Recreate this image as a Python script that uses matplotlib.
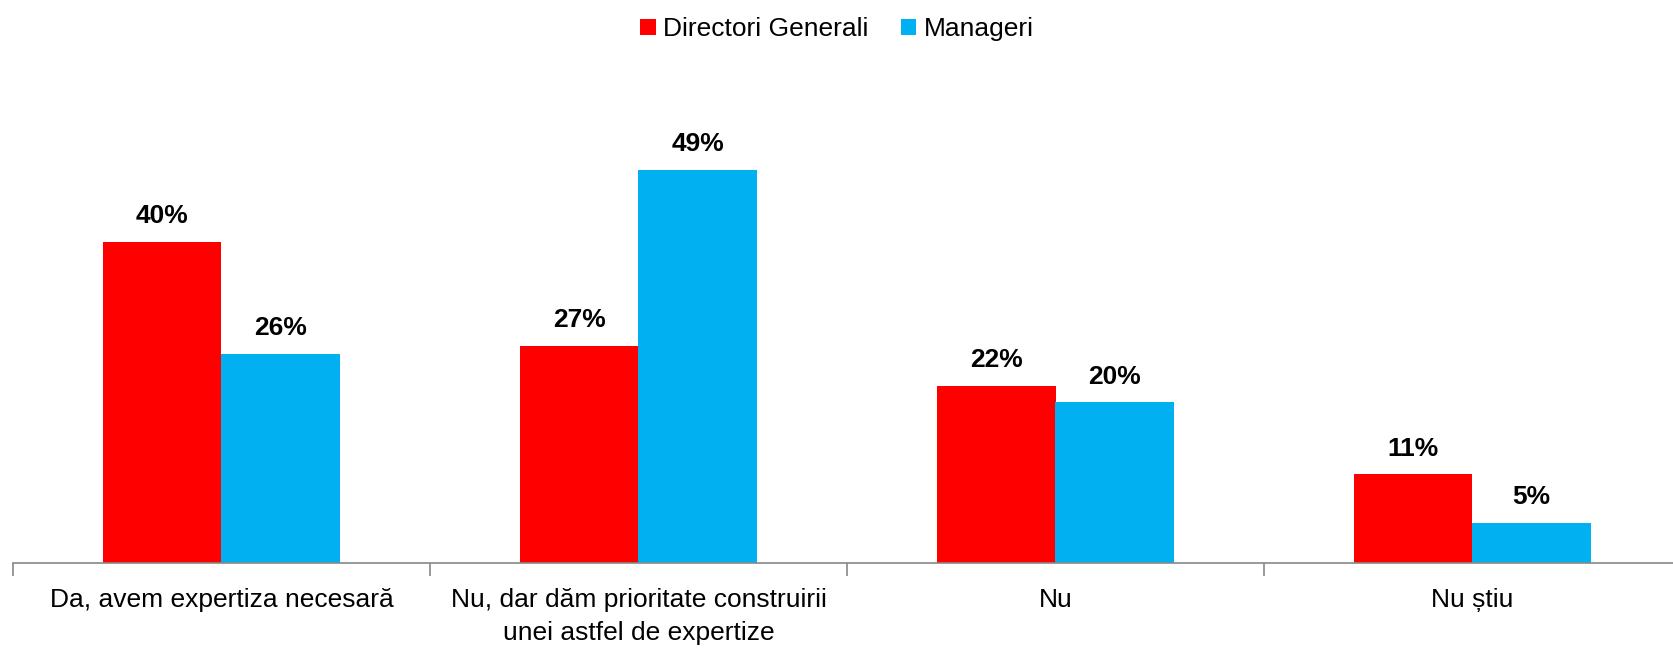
import numpy as np
import matplotlib.pyplot as plt

categories = ['Da, avem expertiza necesară', 'Nu, dar dăm prioritate construirii\nunei astfel de expertize', 'Nu', 'Nu știu']
series = ['Directori Generali', 'Manageri']
directori = [40, 27, 22, 11]
manageri = [26, 49, 20, 5]
colors = ['#FF0000', '#00B0F0']

plt.rcParams['font.family'] = ['Liberation Sans', 'DejaVu Sans']

fig = plt.figure(figsize=(16.74, 6.53), dpi=100)
ax = fig.add_axes([13 / 1674, 90.4 / 653, 1668 / 1674, 440 / 653])

x = np.arange(len(categories))
w = 0.284
b1 = ax.bar(x - w / 2, directori, w, color=colors[0], label=series[0])
b2 = ax.bar(x + w / 2, manageri, w, color=colors[1], label=series[1])
for bars, vals in [(b1, directori), (b2, manageri)]:
    for r, v in zip(bars, vals):
        ax.annotate(f'{v}%', (r.get_x() + r.get_width() / 2, v), xytext=(0, 10),
                    textcoords='offset points', ha='center', va='bottom',
                    fontsize=19, fontweight='bold')

ax.set_xlim(-0.5, len(categories) - 0.5)
ax.set_ylim(0, 440 / 8.01)
ax.set_xticks(np.arange(len(categories) + 1) - 0.5)
ax.set_xticklabels([])
ax.set_xticks(x, minor=True)
ax.set_xticklabels(categories, minor=True, fontsize=19, linespacing=1.5)
ax.tick_params(axis='x', which='minor', length=0, pad=18)
ax.tick_params(axis='x', which='major', length=9, color='#888888', direction='out', width=1.2)
ax.set_yticks([])
for s in ['top', 'right', 'left']:
    ax.spines[s].set_visible(False)
ax.spines['bottom'].set_color('#888888')
ax.spines['bottom'].set_linewidth(1.2)

fig.legend(loc='upper center', bbox_to_anchor=(0.5, 1.01), ncol=2, frameon=False,
           fontsize=19, handlelength=0.6, handleheight=0.6, handletextpad=0.3,
           columnspacing=1.2)

fig.savefig('out.png', dpi=100)
